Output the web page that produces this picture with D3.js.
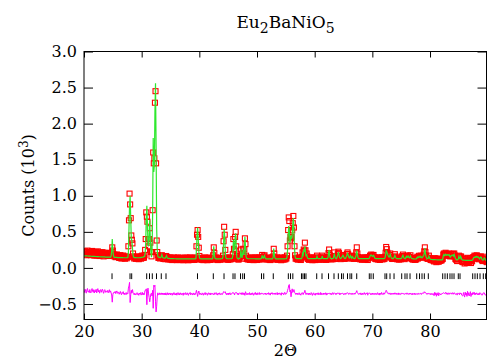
<!DOCTYPE html>
<html>
<head>
<meta charset="utf-8">
<script src="https://cdn.jsdelivr.net/npm/d3@7"></script>
<style>
  body { margin: 0; background: #fff; }
  svg text { font-family: "DejaVu Serif", "Liberation Serif", serif; fill: #000; }
</style>
</head>
<body>
<svg id="chart" width="487" height="360"></svg>
<script>
// Powder diffraction scan: 2-theta from 20 deg in 0.1 deg steps, intensities in counts.
const scanStart = 20;
const scanStep = 0.1;

// Calculated (fitted) profile, counts
const calcCounts = [
  168,168,167,167,166,166,165,165,164,164,
  163,163,162,162,161,161,160,160,159,159,
  158,158,157,157,156,156,155,155,155,154,
  154,154,153,153,152,152,152,151,151,151,
  150,150,150,149,149,149,148,165,230,400,
  250,175,150,146,146,145,145,145,144,144,
  144,143,143,143,142,142,142,142,141,141,
  141,141,141,141,141,142,145,220,550,870,
  1000,700,400,380,280,180,150,145,143,142,
  142,141,141,141,141,141,141,142,143,145,
  146,148,150,153,157,160,200,350,700,860,
  600,320,300,450,660,400,220,150,250,750,
  1800,1330,1420,2170,2560,1700,550,250,160,150,
  150,146,143,142,158,185,150,140,138,137,
  136,135,150,170,148,134,133,132,131,130,
  130,129,129,128,128,128,127,127,127,127,
  126,126,126,126,126,126,126,126,126,
  126,126,126,126,126,126,126,126,126,126,
  126,126,126,126,126,126,126,126,126,126,
  126,126,126,126,126,130,250,450,560,420,
  240,150,130,127,126,126,126,126,126,126,
  126,126,126,126,126,126,126,126,126,126,
  126,126,126,126,128,180,300,190,135,127,
  126,126,126,126,126,126,126,126,126,127,
  128,130,160,340,540,440,220,145,130,128,
  127,127,127,127,127,127,127,128,132,170,
  390,250,260,420,480,280,150,130,128,128,
  128,130,150,260,170,140,190,250,180,250,
  430,300,160,135,130,128,127,127,127,127,
  127,127,127,127,127,127,127,127,126,126,
  126,126,126,126,126,126,126,126,128,140,
  175,140,135,155,170,140,128,126,126,126,
  126,126,126,126,126,126,126,126,128,150,
  270,190,140,128,126,126,126,126,126,126,
  126,126,126,126,126,126,126,126,126,126,
  127,127,128,150,250,450,580,520,350,380,
  450,400,450,600,690,500,280,160,135,130,
  128,128,128,128,128,128,128,128,128,140,
  200,180,240,220,300,230,160,190,150,132,
  128,128,128,128,128,128,128,128,128,
  128,128,128,128,128,130,160,135,129,128,
  128,128,128,128,130,165,135,129,128,128,
  128,128,128,128,128,140,200,250,170,135,
  130,129,128,128,130,150,200,160,135,130,
  132,150,180,220,190,150,135,130,135,150,
  160,175,160,140,132,130,138,160,185,200,
  180,150,138,150,170,145,135,160,150,135,
  132,130,132,150,190,240,185,145,132,130,
  129,128,128,128,128,128,128,128,128,128,
  128,128,128,128,128,128,130,140,160,175,
  180,170,160,165,175,160,140,132,130,129,
  128,128,128,128,128,128,128,128,128,128,
  128,128,128,130,140,185,240,225,200,175,
  160,150,170,190,160,140,132,130,130,140,
  150,175,150,135,130,129,128,128,128,128,
  128,128,130,140,160,175,150,135,130,128,
  145,160,145,150,165,150,140,150,165,145,
  132,128,127,126,125,124,124,124,124,
  135,150,140,145,160,150,145,160,150,140,
  150,160,175,200,270,200,160,140,130,130,
  135,160,140,125,120,118,117,116,116,115,
  115,114,114,113,113,112,112,112,112,111,
  111,111,111,111,112,120,170,185,170,175,
  190,180,175,185,180,175,185,170,150,160,
  175,170,175,180,165,185,160,130,120,115,
  112,115,125,160,140,130,160,145,118,110,
  108,107,107,106,106,105,105,105,104,104,
  104,104,104,104,104,105,108,112,130,145,
  150,145,155,150,160,155,145,150,135,125,
  140,150,145,120,110,108,120,140,130,115,
  105,104,103,103
];

// Observed intensities, counts
const obsCounts = [
  215,188,232,199,176,221,240,194,205,181,
  224,190,176,213,235,198,182,219,171,206,
  188,222,170,201,229,183,207,165,198,214,
  176,205,218,183,160,199,211,172,194,180,
  174,198,165,186,207,170,190,180,215,285,
  240,190,172,158,181,149,170,186,152,167,
  165,138,159,177,143,130,161,149,172,136,
  152,128,147,160,133,155,148,300,660,1030,
  880,690,450,390,340,200,160,131,152,138,
  126,149,158,132,144,121,153,139,160,128,
  150,171,138,160,142,175,250,400,770,710,
  640,400,300,400,550,350,220,160,220,800,
  1600,1450,1520,2290,2450,1450,380,220,175,140,
  138,160,131,150,170,175,162,129,145,124,
  147,121,165,158,137,150,118,139,126,143,
  115,140,132,109,136,121,145,118,130,112,
  139,108,128,144,117,133,110,141,122,
  114,137,125,106,140,119,131,143,112,128,
  141,117,106,133,124,146,113,129,138,110,
  125,139,111,130,118,145,300,460,525,430,
  280,165,119,136,124,112,140,127,108,133,
  120,145,115,131,138,107,126,142,119,134,
  111,139,124,117,135,175,285,205,128,136,
  144,118,130,109,137,125,141,113,128,120,
  135,122,170,370,570,460,250,145,118,140,
  126,112,139,121,143,117,130,124,141,190,
  400,265,245,430,500,300,165,122,140,115,
  131,145,160,255,185,128,205,265,170,260,
  410,330,170,125,139,117,133,120,145,111,
  129,138,115,142,124,108,135,121,147,118,
  133,110,141,127,119,145,116,132,124,150,
  180,148,127,160,175,133,140,115,129,137,
  121,143,118,132,109,139,126,144,122,158,
  265,200,133,141,117,130,145,112,136,124,
  140,118,131,107,143,125,136,114,129,147,
  119,136,131,170,300,525,700,650,380,430,
  410,430,520,620,720,560,300,175,128,141,
  122,137,115,131,144,119,128,110,139,150,
  215,170,255,235,350,245,150,200,160,125,
  136,112,140,125,118,146,129,107,133,
  143,117,130,109,138,124,170,128,145,116,
  132,120,147,113,139,170,126,141,118,135,
  125,144,111,137,120,150,205,255,180,128,
  140,118,133,145,121,160,215,165,127,142,
  125,160,190,225,205,140,146,122,140,155,
  168,180,150,146,125,139,131,170,195,215,
  190,142,147,160,165,152,128,170,143,139,
  126,141,128,160,215,285,200,150,125,138,
  135,119,142,126,113,140,131,120,146,124,
  117,139,128,145,110,133,141,150,170,165,
  185,160,172,158,180,150,147,125,139,120,
  134,145,116,129,140,111,137,125,148,119,
  130,121,143,126,155,210,290,260,210,185,
  170,145,180,200,150,148,126,137,124,150,
  145,190,160,128,139,120,134,142,115,131,
  138,119,126,150,165,185,148,140,122,135,
  150,170,138,160,170,142,150,145,175,140,
  125,138,115,130,120,135,112,128,117,
  140,155,130,152,168,145,150,170,142,150,
  160,165,185,230,285,220,170,135,140,125,
  140,170,135,130,110,125,108,120,104,118,
  90,135,100,128,80,120,95,130,85,118,
  118,98,112,105,120,125,185,200,175,190,
  210,175,190,195,170,185,200,165,160,170,
  185,165,190,195,160,200,170,125,115,120,
  95,125,130,170,128,145,160,155,100,85,
  80,125,98,62,131,90,115,70,140,85,
  120,75,100,135,68,110,92,130,150,140,
  170,130,165,145,175,160,130,155,120,140,
  150,160,130,110,95,120,135,155,120,100,
  90,115,80,105
];

// Bragg reflection positions, 2-theta (deg)
const reflections = [
  24.86, 27.98, 28.27, 30.87, 31.36, 31.84, 32.57, 33.40, 34.22, 39.68,
  42.42, 44.28, 45.84, 46.18, 47.14, 47.52, 47.83, 50.78, 51.16, 52.82,
  55.43, 55.81, 56.21, 57.71, 57.97, 58.23, 58.49, 60.35, 61.27, 62.40,
  63.35, 64.10, 64.65, 64.96, 65.69, 66.12, 66.42, 67.29, 69.47, 69.77,
  70.16, 72.19, 72.49, 73.06, 73.76, 75.09, 75.66, 76.01, 76.53, 77.69,
  78.18, 78.61, 79.01, 79.70, 82.20, 82.60, 83.00, 83.46, 83.81, 84.16,
  84.90, 85.20, 87.40, 87.80, 88.20, 88.67, 89.24, 89.65
];

const xTickValues = [20, 30, 40, 50, 60, 70, 80];
const yTickValues = [-0.5, 0, 0.5, 1.0, 1.5, 2.0, 2.5, 3.0];
const diffOffsetCounts = -360;     // difference curve is shifted below zero
const markerBand = [-0.075, -0.155]; // vertical extent of the reflection markers (10^3 counts)

const svg = d3.select("#chart");
const plotLeft = 84, plotTop = 51.5, plotBottom = 319.5;

const x = d3.scaleLinear().domain([20, 90]).range([plotLeft, 487.7]);
const y = d3.scaleLinear().domain([-0.715, 3.0]).range([plotBottom, plotTop]);
const plotRight = Math.min(x(90), 486.5);

svg.append("defs").append("clipPath").attr("id", "plotClip")
  .append("rect").attr("x", plotLeft).attr("y", plotTop)
  .attr("width", plotRight - plotLeft).attr("height", plotBottom - plotTop);

const n = Math.min(calcCounts.length, obsCounts.length);
const pts = d3.range(n).map(i => ({
  t: scanStart + i * scanStep,
  obs: obsCounts[i] / 1000,
  calc: calcCounts[i] / 1000,
  diff: (obsCounts[i] - calcCounts[i] + diffOffsetCounts) / 1000
}));

const plot = svg.append("g").attr("clip-path", "url(#plotClip)");

// observed points: open red squares
const sq = 5;
plot.append("g").selectAll("rect").data(pts).join("rect")
  .attr("x", d => x(d.t) - sq / 2)
  .attr("y", d => y(d.obs) - sq / 2)
  .attr("width", sq).attr("height", sq)
  .attr("fill", "none").attr("stroke", "#ff0000").attr("stroke-width", 1.1);

// calculated profile
plot.append("path").datum(pts)
  .attr("fill", "none").attr("stroke", "#2ee82e").attr("stroke-width", 1.2)
  .attr("d", d3.line().x(d => x(d.t)).y(d => y(d.calc)));

// difference curve
plot.append("path").datum(pts)
  .attr("fill", "none").attr("stroke", "#ff00ff").attr("stroke-width", 1)
  .attr("d", d3.line().x(d => x(d.t)).y(d => y(d.diff)));

// reflection markers
plot.append("g").selectAll("line").data(reflections).join("line")
  .attr("x1", d => x(d)).attr("x2", d => x(d))
  .attr("y1", y(markerBand[0])).attr("y2", y(markerBand[1]))
  .attr("stroke", "#000").attr("stroke-width", 1);

// axes with inward ticks
const fmt = d3.format(".1f");
const styleAxis = g => {
  g.select(".domain").remove();
  g.selectAll("line").attr("stroke", "#000");
  g.selectAll("text").attr("font-family", "DejaVu Serif, serif").attr("font-size", 16).attr("fill", "#000");
  g.attr("font-family", null).attr("font-size", null);
};
svg.append("g").attr("transform", `translate(0,${plotBottom})`)
  .call(d3.axisBottom(x).tickValues(xTickValues).tickSize(-6).tickPadding(6).tickFormat(d3.format("d")))
  .call(styleAxis);
svg.append("g").attr("transform", `translate(0,${plotTop})`)
  .call(d3.axisTop(x).tickValues(xTickValues).tickSize(-6).tickFormat(""))
  .call(styleAxis);
svg.append("g").attr("transform", `translate(${plotLeft},0)`)
  .call(d3.axisLeft(y).tickValues(yTickValues).tickSize(-9).tickPadding(7).tickFormat(fmt))
  .call(styleAxis);
svg.append("g").attr("transform", `translate(${plotRight},0)`)
  .call(d3.axisRight(y).tickValues(yTickValues).tickSize(-9).tickFormat(""))
  .call(styleAxis);

// frame
svg.append("rect").attr("x", plotLeft).attr("y", plotTop)
  .attr("width", plotRight - plotLeft).attr("height", plotBottom - plotTop)
  .attr("fill", "none").attr("stroke", "#000").attr("stroke-width", 1);

// title with subscripts
const cx = (plotLeft + 487) / 2;
const title = svg.append("text").attr("x", cx).attr("y", 28)
  .attr("text-anchor", "middle").attr("font-size", 17);
title.append("tspan").text("Eu");
title.append("tspan").attr("dy", 5).attr("font-size", 14).text("2");
title.append("tspan").attr("dy", -5).text("BaNiO");
title.append("tspan").attr("dy", 5).attr("font-size", 14).text("5");

// axis titles
svg.append("text").attr("x", cx).attr("y", 356)
  .attr("text-anchor", "middle").attr("font-size", 16).text("2Θ");

const ylab = svg.append("text")
  .attr("transform", `translate(34,${(plotTop + plotBottom) / 2}) rotate(-90)`)
  .attr("text-anchor", "middle").attr("font-size", 16);
ylab.append("tspan").text("Counts (10");
ylab.append("tspan").attr("dy", -6).attr("font-size", 12).text("3");
ylab.append("tspan").attr("dy", 6).text(")");
</script>
</body>
</html>
